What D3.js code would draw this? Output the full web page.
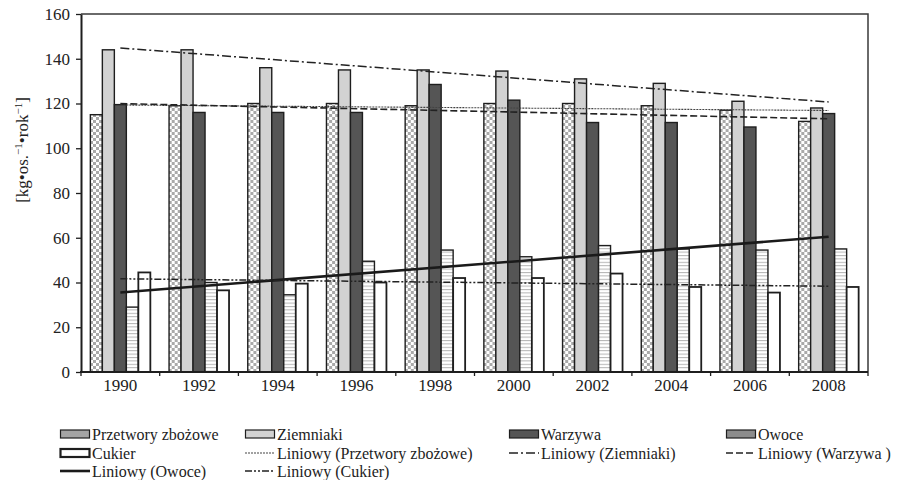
<!DOCTYPE html>
<html lang="pl">
<head>
<meta charset="UTF-8">
<title>Spożycie – wykres</title>
<script src="https://d3js.org/d3.v7.min.js"></script>
<style>
  body { margin: 0; background: #fff; }
  svg text { font-family: "Liberation Serif", "Times New Roman", serif; fill: #222; }
</style>
</head>
<body>
<svg id="chart" width="900" height="480"></svg>
<script>
// data
var years = ["1990", "1992", "1994", "1996", "1998", "2000", "2002", "2004", "2006", "2008"];
var przetwory = [115, 119, 120, 120, 119, 120, 120, 119, 117, 112];
var ziemniaki = [144, 144, 136, 135, 135, 134.5, 131, 129, 121, 118];
var warzywa   = [119.5, 116, 116, 116, 128.5, 121.5, 111.5, 111.5, 109.5, 115.5];
var owoce     = [29, 40, 34.5, 49.5, 54.5, 51.5, 56.5, 55, 54.5, 55];
var cukier    = [44.5, 36.5, 39.5, 40, 42, 42, 44, 38, 35.5, 38];
var seriesNames = ["Przetwory zbożowe", "Ziemniaki", "Warzywa", "Owoce", "Cukier"];
var yTicks = [0, 20, 40, 60, 80, 100, 120, 140, 160];

var seriesValues = [przetwory, ziemniaki, warzywa, owoce, cukier];

var svg = d3.select("#chart");
var plotLeft = 81, plotRight = 868, plotTop = 14, plotBottom = 372;

var x0 = d3.scaleBand().domain(years).range([plotLeft, plotRight]);
var x1 = d3.scaleBand().domain(seriesNames).range([0, x0.bandwidth()]).paddingOuter(0.78);
var y = d3.scaleLinear().domain([0, 160]).range([plotBottom, plotTop]);

// patterns
var defs = svg.append("defs");
var chk = defs.append("pattern").attr("id", "chk").attr("patternUnits", "userSpaceOnUse")
  .attr("width", 6).attr("height", 6);
chk.append("rect").attr("width", 6).attr("height", 6).attr("fill", "#fff");
chk.append("rect").attr("width", 3).attr("height", 3).attr("fill", "#a9a9a9");
chk.append("rect").attr("x", 3).attr("y", 3).attr("width", 3).attr("height", 3).attr("fill", "#a9a9a9");

var str = defs.append("pattern").attr("id", "str").attr("patternUnits", "userSpaceOnUse")
  .attr("width", 6).attr("height", 3.4);
str.append("rect").attr("width", 6).attr("height", 3.4).attr("fill", "#fff");
str.append("rect").attr("y", 0).attr("width", 6).attr("height", 1).attr("fill", "#b4b4b4");

var fills = ["url(#chk)", "#d2d2d2", "#555555", "url(#str)", "#ffffff"];
var legendFills = ["#a4a4a4", "#d2d2d2", "#555555", "#8c8c8c", "#ffffff"];

// plot frame (top and right)
svg.append("path")
  .attr("d", "M" + plotLeft + "," + plotTop + "H" + plotRight + "V" + plotBottom)
  .attr("fill", "none").attr("stroke", "#3a3a3a").attr("stroke-width", 1.5);

// bars
var groups = svg.append("g").selectAll("g")
  .data(years).join("g")
  .attr("transform", function (d) { return "translate(" + x0(d) + ",0)"; });

groups.selectAll("rect")
  .data(function (d, i) {
    return seriesNames.map(function (s, k) { return { s: s, k: k, v: seriesValues[k][i] }; });
  })
  .join("rect")
  .attr("x", function (d) { return x1(d.s); })
  .attr("width", x1.bandwidth())
  .attr("y", function (d) { return y(d.v); })
  .attr("height", function (d) { return y(0) - y(d.v); })
  .attr("fill", function (d) { return fills[d.k]; })
  .attr("stroke", "#1e1e1e")
  .attr("stroke-width", function (d) { return d.k === 4 ? 1.8 : 1.4; });

// linear trend lines (least squares over category index, as in the spreadsheet)
function trend(vals) {
  var n = vals.length, xs = d3.range(1, n + 1);
  var mx = d3.mean(xs), my = d3.mean(vals);
  var sxy = d3.sum(xs, function (xv, i) { return (xv - mx) * (vals[i] - my); });
  var sxx = d3.sum(xs, function (xv) { return (xv - mx) * (xv - mx); });
  var b = sxy / sxx, a = my - b * mx;
  return [a + b * 1, a + b * n];
}

var trendStyles = [
  { stroke: "#444", width: 1.1, dash: "2,1" },
  { stroke: "#222", width: 1.5, dash: "9,3,2,3" },
  { stroke: "#222", width: 1.6, dash: "7,3" },
  { stroke: "#1a1a1a", width: 2.6, dash: null },
  { stroke: "#222", width: 1.5, dash: "7,2,2,2,2,2" }
];

var cx = function (yr) { return x0(yr) + x0.bandwidth() / 2; };
var line = d3.line().x(function (d) { return d[0]; }).y(function (d) { return d[1]; });

svg.append("g").selectAll("path")
  .data(seriesValues)
  .join("path")
  .attr("d", function (vals) {
    var t = trend(vals);
    return line([[cx(years[0]), y(t[0])], [cx(years[years.length - 1]), y(t[1])]]);
  })
  .attr("fill", "none")
  .attr("stroke", function (d, i) { return trendStyles[i].stroke; })
  .attr("stroke-width", function (d, i) { return trendStyles[i].width; })
  .attr("stroke-dasharray", function (d, i) { return trendStyles[i].dash; });

// y axis
var yAxis = svg.append("g")
  .attr("transform", "translate(" + plotLeft + ",0)")
  .call(d3.axisLeft(y).tickValues(yTicks).tickSize(5).tickPadding(6).tickSizeOuter(0));
yAxis.select(".domain").attr("stroke", "#1e1e1e").attr("stroke-width", 2);
yAxis.selectAll(".tick line").attr("stroke", "#1e1e1e").attr("stroke-width", 1.3);
yAxis.selectAll("text").style("font-size", "17px").attr("fill", "#222");

// x axis: boundary ticks, labels at centres
var xAxis = svg.append("g").attr("transform", "translate(0," + plotBottom + ")");
xAxis.append("line").attr("x1", plotLeft - 1).attr("x2", plotRight)
  .attr("stroke", "#1e1e1e").attr("stroke-width", 2);
xAxis.selectAll("line.tk")
  .data(years.concat(["end"]))
  .join("line").attr("class", "tk")
  .attr("x1", function (d) { return d === "end" ? plotRight : x0(d); })
  .attr("x2", function (d) { return d === "end" ? plotRight : x0(d); })
  .attr("y1", 0).attr("y2", 4)
  .attr("stroke", "#1e1e1e").attr("stroke-width", 1.3);
xAxis.selectAll("text")
  .data(years).join("text")
  .attr("x", cx).attr("y", 19)
  .attr("text-anchor", "middle")
  .style("font-size", "17px")
  .text(function (d) { return d; });

// y axis title
var yt = svg.append("text")
  .attr("transform", "translate(28,150) rotate(-90)")
  .attr("text-anchor", "middle")
  .style("font-size", "17px");
yt.append("tspan").text("[kg•os.");
yt.append("tspan").attr("baseline-shift", "super").style("font-size", "11px").text("−1");
yt.append("tspan").text("•rok");
yt.append("tspan").attr("baseline-shift", "super").style("font-size", "11px").text("−1");
yt.append("tspan").text("]");

// legend
var legendItems = [
  { label: "Przetwory zbożowe", kind: "bar", k: 0 },
  { label: "Ziemniaki", kind: "bar", k: 1 },
  { label: "Warzywa", kind: "bar", k: 2 },
  { label: "Owoce", kind: "bar", k: 3 },
  { label: "Cukier", kind: "bar", k: 4 },
  { label: "Liniowy (Przetwory zbożowe)", kind: "line", k: 0 },
  { label: "Liniowy (Ziemniaki)", kind: "line", k: 1 },
  { label: "Liniowy (Warzywa )", kind: "line", k: 2 },
  { label: "Liniowy (Owoce)", kind: "line", k: 3 },
  { label: "Liniowy (Cukier)", kind: "line", k: 4 }
];
var legCols = [60, 245, 509, 726];
var legRows = [434, 453, 471];

var leg = svg.append("g").selectAll("g")
  .data(legendItems).join("g")
  .attr("transform", function (d, i) {
    return "translate(" + legCols[i % 4] + "," + legRows[Math.floor(i / 4)] + ")";
  });

leg.filter(function (d) { return d.kind === "bar"; })
  .append("rect")
  .attr("x", 0.5).attr("y", -4).attr("width", 29).attr("height", 8)
  .attr("fill", function (d) { return legendFills[d.k]; })
  .attr("stroke", "#1e1e1e")
  .attr("stroke-width", function (d) { return d.k === 4 ? 2.2 : 1.2; });

leg.filter(function (d) { return d.kind === "line"; })
  .append("line")
  .attr("x1", 0).attr("x2", 30).attr("y1", 0).attr("y2", 0)
  .attr("stroke", function (d) { return trendStyles[d.k].stroke; })
  .attr("stroke-width", function (d) { return trendStyles[d.k].width; })
  .attr("stroke-dasharray", function (d) { return trendStyles[d.k].dash; });

leg.append("text")
  .attr("x", 32).attr("y", 5.5)
  .style("font-size", "16px")
  .text(function (d) { return d.label; });
</script>
</body>
</html>
